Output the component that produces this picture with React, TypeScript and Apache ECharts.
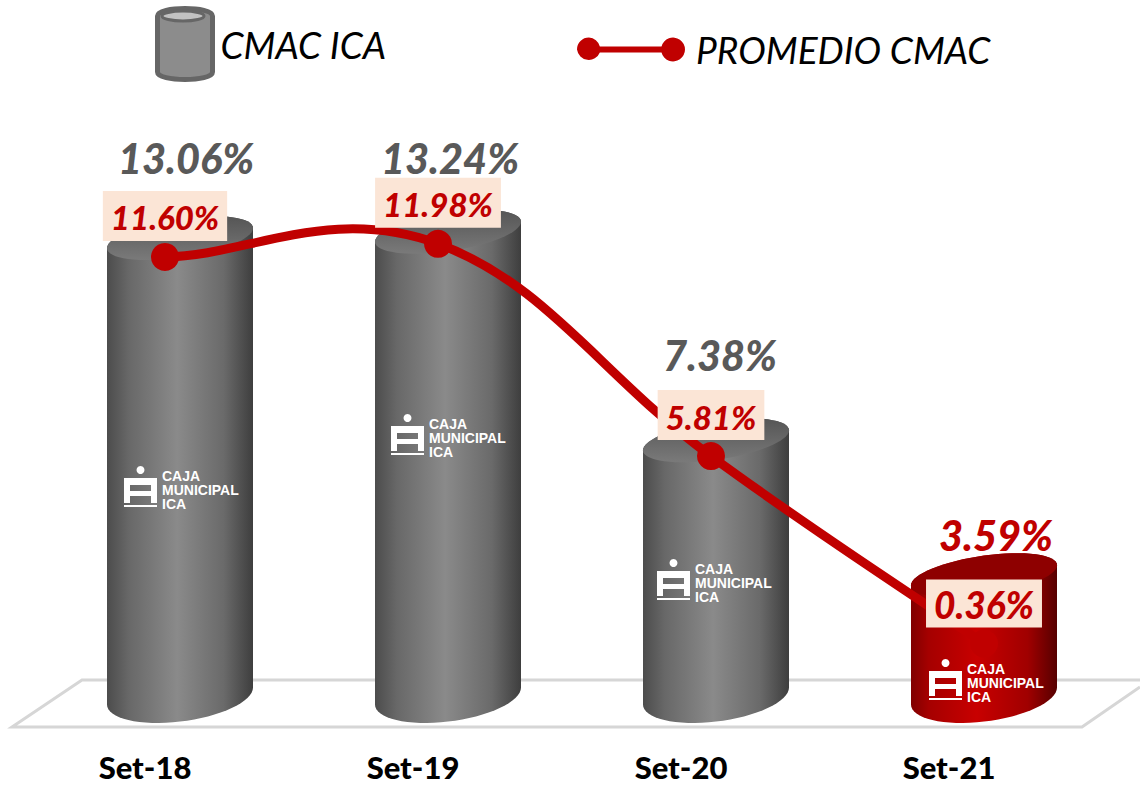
import React, { useEffect, useRef } from "react";
import * as echarts from "echarts";

const categories = ["Set-18", "Set-19", "Set-20", "Set-21"];
const cmacIca = [13.06, 13.24, 7.38, 3.59];
const promedioCmac = [11.6, 11.98, 5.81, 0.36];
const highlightIndex = 3;
const barBaseValue = 0.197;
const valueLabelOffsets = [[6, -80], [2, -74], [4, -85], [12, -40]];
const logoOrigins = [[124, 466], [391, 414], [657, 559], [929, 659]];
const logoLines = ["CAJA", "MUNICIPAL", "ICA"];

const GRAY = "#595959";
const RED = "#C00000";
const HALF_W = 73;
const TOP_GEOM = { b: 19.6, k: 0.137 };
const BASE_GEOM = { b: 25.6, k: 0.116 };
const TENSION = 0.2;
const fmt = (v: number) => v.toFixed(2) + "%";

function ellipseArc(cx: number, cy: number, g: { b: number; k: number }, from: number, to: number, n = 32) {
  const pts: number[][] = [];
  for (let i = 0; i <= n; i++) {
    const t = from + ((to - from) * i) / n;
    const dx = HALF_W * Math.cos(t);
    pts.push([cx + dx, cy + g.b * Math.sin(t) - g.k * dx]);
  }
  return pts;
}

function renderCylinder(params: any, api: any) {
  const i = api.value(0);
  const v = api.value(1);
  const [cx, top] = api.coord([i, v]);
  const [, base] = api.coord([i, barBaseValue]);
  const hot = i === highlightIndex;
  const bodyFill = new echarts.graphic.LinearGradient(0, 0, 1, 0, hot
    ? [
        { offset: 0, color: "#800000" },
        { offset: 0.12, color: "#a50000" },
        { offset: 0.45, color: "#c80000" },
        { offset: 0.8, color: "#a00000" },
        { offset: 1, color: "#560000" },
      ]
    : [
        { offset: 0, color: "#4c4c4c" },
        { offset: 0.15, color: "#686868" },
        { offset: 0.48, color: "#8a8a8a" },
        { offset: 0.8, color: "#6a6a6a" },
        { offset: 1, color: "#3e3e3e" },
      ]);
  const topFill = hot
    ? "#8e0000"
    : new echarts.graphic.LinearGradient(0, 0, 0, 1, [
        { offset: 0, color: "#555555" },
        { offset: 1, color: "#7a7a7a" },
      ]);
  const body = [...ellipseArc(cx, top, TOP_GEOM, Math.PI, 2 * Math.PI), ...ellipseArc(cx, base, BASE_GEOM, 0, Math.PI)];
  const off = valueLabelOffsets[i];
  return {
    type: "group",
    children: [
      { type: "polygon", shape: { points: body }, style: { fill: bodyFill } },
      { type: "polygon", shape: { points: ellipseArc(cx, top, TOP_GEOM, 0, 2 * Math.PI, 64) }, style: { fill: topFill } },
      {
        type: "text",
        z2: 20,
        style: {
          x: cx + off[0],
          y: top + off[1],
          text: fmt(v),
          fill: hot ? RED : GRAY,
          font: "italic 900 41.5px Lato",
          align: "center",
          verticalAlign: "middle",
        },
      },
    ],
  };
}

function renderCurve(params: any, api: any) {
  const i = api.value(0);
  const at = (n: number) => api.coord([n, promedioCmac[Math.max(0, Math.min(promedioCmac.length - 1, n))]]);
  const p0 = at(i - 1);
  const p1 = at(i);
  const p2 = at(i + 1);
  const p3 = at(i + 2);
  if (i >= promedioCmac.length - 1) return { type: "group", children: [] };
  const atStart = i === 0;
  const atEnd = i === promedioCmac.length - 2;
  const t1 = atStart ? [(p2[0] - p1[0]) * 0.3, (p2[1] - p1[1]) * 0.05] : [(p2[0] - p0[0]) * TENSION, (p2[1] - p0[1]) * TENSION];
  const t2 = atEnd ? [(p2[0] - p1[0]) * 0.3, (p2[1] - p1[1]) * 0.3] : [(p3[0] - p1[0]) * TENSION, (p3[1] - p1[1]) * TENSION];
  return {
    type: "bezierCurve",
    shape: {
      x1: p1[0],
      y1: p1[1],
      cpx1: p1[0] + t1[0],
      cpy1: p1[1] + t1[1],
      cpx2: p2[0] - t2[0],
      cpy2: p2[1] - t2[1],
      x2: p2[0],
      y2: p2[1],
    },
    style: { stroke: RED, lineWidth: 9, fill: "none" },
  };
}

function logo([x, y]: number[]) {
  const z = 20;
  const rect = (rx: number, ry: number, w: number, h: number) => ({
    type: "rect",
    z,
    shape: { x: rx, y: ry, width: w, height: h },
    style: { fill: "#fff" },
  });
  return {
    type: "group",
    x,
    y,
    z,
    children: [
      { type: "circle", z, shape: { cx: 16.5, cy: 4, r: 4 }, style: { fill: "#fff" } },
      rect(0, 12, 33, 7),
      rect(0, 12, 6, 25),
      rect(27, 12, 6, 25),
      rect(0, 25, 33, 5),
      rect(0, 39, 33, 2),
      ...logoLines.map((t, k) => ({
        type: "text",
        z,
        style: {
          x: 38,
          y: 10 + k * 14,
          text: t,
          fill: "#fff",
          font: "bold 14px 'Liberation Sans'",
          verticalAlign: "middle",
        },
      })),
    ],
  };
}

export default function App() {
  const ref = useRef<HTMLDivElement>(null);
  useEffect(() => {
    const chart = echarts.init(ref.current!, null, { renderer: "svg" });
    chart.setOption({
      animation: false,
      backgroundColor: "#fff",
      legend: [
        {
          left: 155,
          top: 6,
          padding: 0,
          selectedMode: false,
          itemWidth: 55,
          itemHeight: 77,
          data: [
            {
              name: "CMAC ICA",
              icon: "path://M0 10C0 0 55 0 55 10L55 66C55 76 0 76 0 66Z",
              itemStyle: { color: "#8c8c8c", borderColor: "#666666", borderWidth: 5 },
            },
          ],
          textStyle: { fontFamily: "Lato", fontStyle: "italic", fontSize: 37, color: "#000", padding: [0, 0, 0, 3] },
        },
        {
          left: 577,
          top: 31,
          padding: 0,
          selectedMode: false,
          itemWidth: 108,
          itemHeight: 26,
          data: [
            {
              name: "PROMEDIO CMAC",
              icon: "path://M12 0A12 12 0 0 1 23 9L85 9A12 12 0 1 1 85 15L23 15A12 12 0 0 1 0 12A12 12 0 0 1 12 0Z",
              itemStyle: { color: RED },
            },
          ],
          textStyle: { fontFamily: "Lato", fontStyle: "italic", fontSize: 37, color: "#000", padding: [0, 0, 0, 6] },
        },
      ],
      grid: [
        { left: 46, top: 100, width: 1072, height: 603 },
        { left: 28.5, top: 100, width: 1092, height: 603 },
      ],
      xAxis: [
        {
          type: "category",
          gridIndex: 0,
          data: categories,
          axisLine: { show: false },
          axisTick: { show: false },
          axisLabel: {
            margin: 48,
            padding: [0, 70, 0, 0],
            color: "#000",
            fontFamily: "Lato",
            fontWeight: 900,
            fontSize: 31,
          },
        },
        { type: "category", gridIndex: 1, data: categories, show: false },
      ],
      yAxis: [
        { type: "value", gridIndex: 0, min: 0, max: 16.94, show: false, splitLine: { show: false } },
        { type: "value", gridIndex: 1, min: -1.366, max: 16.16, show: false, splitLine: { show: false } },
      ],
      graphic: [
        {
          type: "polyline",
          z: -1,
          shape: { points: [[1140, 680], [82, 680], [12, 727], [1082, 727], [1140, 687]] },
          style: { stroke: "#d6d6d6", lineWidth: 3, fill: "none" },
        },
        {
          type: "ellipse",
          z: 20,
          shape: { cx: 183, cy: 16, rx: 21, ry: 5 },
          style: { fill: "#c2c2c2", stroke: "#666666", lineWidth: 3 },
        },
        ...logoOrigins.map((o) => logo(o)),
      ],
      series: [
        {
          name: "CMAC ICA",
          type: "custom",
          xAxisIndex: 0,
          yAxisIndex: 0,
          z: 2,
          clip: false,
          renderItem: renderCylinder,
          encode: { x: 0, y: 1 },
          data: cmacIca.map((v, i) => [i, v]),
        },
        {
          name: "curve",
          type: "custom",
          xAxisIndex: 1,
          yAxisIndex: 1,
          z: 4,
          clip: false,
          renderItem: renderCurve,
          encode: { x: 0, y: 1 },
          data: promedioCmac.map((v, i) => [i, v]),
        },
        {
          name: "PROMEDIO CMAC",
          type: "line",
          xAxisIndex: 1,
          yAxisIndex: 1,
          z: 5,
          data: promedioCmac.map((v, i) =>
            i === highlightIndex ? { value: v, label: { fontSize: 37, padding: [6, 8, 5, 8] } } : v
          ),
          symbol: "circle",
          symbolSize: 28,
          itemStyle: { color: RED },
          lineStyle: { color: RED, width: 0 },
          label: {
            show: true,
            position: "top",
            distance: 2,
            formatter: (p: any) => fmt(p.value),
            color: RED,
            fontFamily: "Lato",
            fontStyle: "italic",
            fontWeight: 900,
            fontSize: 33,
            backgroundColor: "#FBE5D6",
            padding: [10, 8, 7, 8],
          },
        },
      ],
    });
    return () => chart.dispose();
  }, []);
  return <div ref={ref} style={{ position: "absolute", left: 0, top: 0, width: 1140, height: 786 }} />;
}
